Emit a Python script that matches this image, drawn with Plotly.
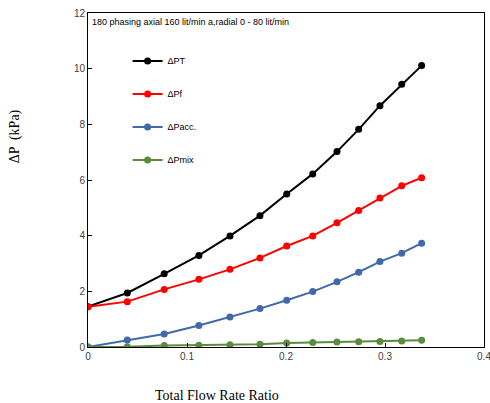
import plotly.graph_objects as go

x = [0, 0.0397, 0.077, 0.112, 0.1434, 0.1737, 0.2007, 0.227, 0.2515, 0.2734, 0.2949, 0.3169, 0.337]
dPT = [1.45, 1.94, 2.63, 3.29, 3.99, 4.72, 5.50, 6.22, 7.02, 7.82, 8.67, 9.44, 10.11]
dPf = [1.45, 1.63, 2.07, 2.43, 2.79, 3.20, 3.63, 3.99, 4.46, 4.90, 5.35, 5.79, 6.08]
dPacc = [0.0, 0.25, 0.47, 0.77, 1.08, 1.38, 1.68, 1.99, 2.34, 2.69, 3.07, 3.37, 3.73]
dPmix = [0.0, 0.01, 0.05, 0.06, 0.08, 0.10, 0.14, 0.16, 0.18, 0.19, 0.20, 0.22, 0.24]
x_ticks = [0, 0.1, 0.2, 0.3, 0.4]
x_ticklabels = ["0", "0.1", "0.2", "0.3", "0.4"]

series = [("ΔPT", dPT, "#000000"), ("ΔPf", dPf, "#ff0000"),
          ("ΔPacc.", dPacc, "#4168ab"), ("ΔPmix", dPmix, "#5b8c3c")]

fig = go.Figure()
for i, (name, ys, col) in enumerate(series):
    fig.add_trace(go.Scatter(x=x, y=ys, name=name, mode="lines+markers",
                             line=dict(color=col, width=2),
                             marker=dict(color=col, size=7),
                             legendgroup=str(i)))

axis_common = dict(showline=True, linecolor="#000000", linewidth=1, mirror=True,
                   ticks="inside", ticklen=4, tickcolor="#000000", showgrid=False,
                   zeroline=False, ticklabeloverflow="allow", automargin=False,
                   tickfont=dict(family="Liberation Sans, Arial", size=10, color="#404040"))

fig.update_layout(
    width=490, height=403,
    margin=dict(l=88, r=6, t=13, b=56),
    plot_bgcolor="white", paper_bgcolor="white",
    xaxis=dict(range=[0, 0.4], tickvals=x_ticks, ticktext=x_ticklabels, **axis_common),
    yaxis=dict(range=[0, 12], dtick=2, **axis_common),
    legend=dict(x=0.1, y=0.90, xanchor="left", yanchor="top", bgcolor="rgba(0,0,0,0)",
                font=dict(family="Liberation Sans, Arial", size=9, color="#000000"),
                tracegroupgap=14, itemwidth=30),
    showlegend=True,
)
fig.add_annotation(text="180 phasing axial 160 lit/min a,radial 0 - 80 lit/min",
                   xref="paper", yref="paper", x=0.005, y=0.995, xanchor="left", yanchor="top",
                   showarrow=False, font=dict(family="Liberation Sans, Arial", size=9, color="#000000"))
fig.add_annotation(text="ΔP  (kPa)", xref="paper", yref="paper", x=-0.185, y=0.63,
                   textangle=-90, showarrow=False, xanchor="center", yanchor="middle",
                   font=dict(family="Liberation Serif, Times New Roman", size=14, color="#000000"))
fig.add_annotation(text="Total Flow Rate Ratio", xref="paper", yref="paper", x=0.325, y=-0.145,
                   showarrow=False, xanchor="center", yanchor="middle",
                   font=dict(family="Liberation Serif, Times New Roman", size=14, color="#000000"))

fig.write_html("out.html")
